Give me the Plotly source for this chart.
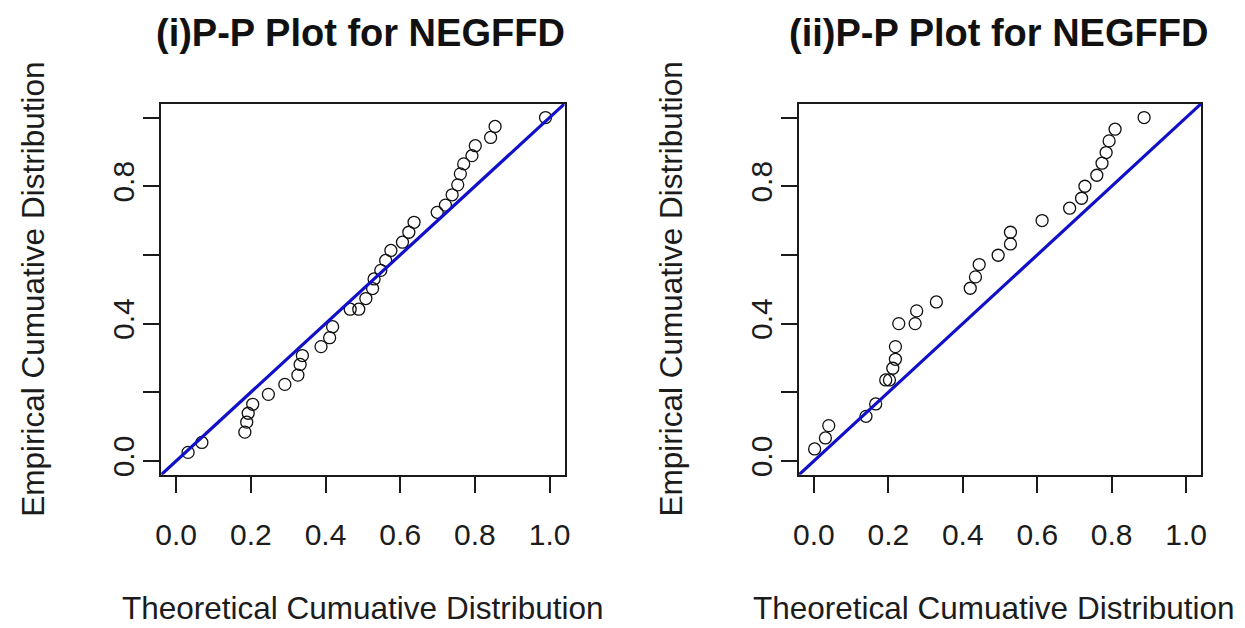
import plotly.graph_objects as go

# Panel (i): theoretical vs empirical cumulative probabilities
theo_1 = [0.032, 0.069, 0.184, 0.189, 0.193, 0.205, 0.247, 0.291, 0.326, 0.332,
          0.338, 0.388, 0.411, 0.419, 0.466, 0.489, 0.508, 0.526, 0.530, 0.548,
          0.561, 0.575, 0.606, 0.623, 0.637, 0.699, 0.721, 0.739, 0.754, 0.761,
          0.770, 0.792, 0.801, 0.842, 0.854, 0.989]
emp_1 = [0.025, 0.054, 0.084, 0.113, 0.139, 0.165, 0.194, 0.223, 0.250, 0.281,
         0.307, 0.333, 0.359, 0.391, 0.442, 0.442, 0.473, 0.502, 0.530, 0.555,
         0.584, 0.613, 0.637, 0.666, 0.695, 0.724, 0.745, 0.775, 0.804, 0.836,
         0.865, 0.889, 0.918, 0.942, 0.974, 1.000]

# Panel (ii)
theo_2 = [0.002, 0.031, 0.040, 0.140, 0.166, 0.193, 0.203, 0.212, 0.219, 0.219,
          0.228, 0.272, 0.276, 0.329, 0.420, 0.434, 0.444, 0.495, 0.528, 0.528,
          0.613, 0.687, 0.719, 0.728, 0.760, 0.774, 0.785, 0.793, 0.809, 0.887]
emp_2 = [0.035, 0.067, 0.103, 0.130, 0.166, 0.236, 0.236, 0.270, 0.296, 0.333,
         0.400, 0.400, 0.437, 0.463, 0.503, 0.536, 0.572, 0.599, 0.632, 0.666,
         0.700, 0.736, 0.765, 0.800, 0.832, 0.867, 0.898, 0.932, 0.966, 1.000]

panel_titles = ["(i)P-P Plot for NEGFFD", "(ii)P-P Plot for NEGFFD"]
x_title = "Theoretical Cumuative Distribution"
y_title = "Empirical Cumuative Distribution"

x_tickvals = [0.0, 0.2, 0.4, 0.6, 0.8, 1.0]
x_ticktext = ["0.0", "0.2", "0.4", "0.6", "0.8", "1.0"]
y_tickvals = [0.0, 0.2, 0.4, 0.6, 0.8, 1.0]
y_ticktext = ["0.0", "", "0.4", "", "0.8", ""]

AX_LO, AX_HI = -0.04, 1.04
W, H = 1245, 628
FONT = "Liberation Sans, Arial, sans-serif"
TXT = "#1c1c1c"

# panel boxes in pixels: (left, right), shared (top, bottom)
panels_px = [(156.7, 564.0), (800.7, 1206.7)]
top_px, bot_px = 104.3, 477.0
xtitle_cx = [360, 997]

fig = go.Figure()

for i, (tx, ey) in enumerate([(theo_1, emp_1), (theo_2, emp_2)]):
    xa = "x" if i == 0 else "x2"
    ya = "y" if i == 0 else "y2"
    fig.add_trace(go.Scatter(
        x=tx, y=ey, mode="markers", xaxis=xa, yaxis=ya,
        marker=dict(symbol="circle-open", size=12, color="#111111",
                    line=dict(width=1.3, color="#111111")),
        showlegend=False, hoverinfo="x+y"))
    # reference line y = x across the full plotting region
    fig.add_trace(go.Scatter(
        x=[AX_LO, AX_HI], y=[AX_LO, AX_HI], mode="lines", xaxis=xa, yaxis=ya,
        line=dict(color="#1010c8", width=3.2), showlegend=False,
        hoverinfo="skip"))

axis_common = dict(
    range=[AX_LO, AX_HI], showgrid=False, zeroline=False,
    showline=True, mirror=True, linecolor="#1a1a1a", linewidth=1.6,
    ticks="outside", ticklen=16, tickwidth=1.5, tickcolor="#1a1a1a",
    tickfont=dict(family=FONT, size=30, color=TXT),
    fixedrange=True,
)

layout_axes = {}
for i, (l, r) in enumerate(panels_px):
    sfx = "" if i == 0 else "2"
    layout_axes["xaxis" + sfx] = dict(
        axis_common, domain=[l / W, r / W],
        anchor="y" + sfx, tickmode="array",
        tickvals=x_tickvals, ticktext=x_ticktext, ticklabelstandoff=16)
    layout_axes["yaxis" + sfx] = dict(
        axis_common, domain=[1 - bot_px / H, 1 - top_px / H],
        anchor="x" + sfx, tickmode="array",
        tickvals=y_tickvals, ticktext=y_ticktext, tickangle=-90,
        ticklabelstandoff=-3)

annotations = []
for i, (l, r) in enumerate(panels_px):
    cx = (l + r) / 2
    annotations.append(dict(
        text="<b>%s</b>" % panel_titles[i], x=(cx - 2) / W, y=1 - 33 / H,
        xref="paper", yref="paper", xanchor="center", yanchor="middle",
        showarrow=False, font=dict(family=FONT, size=38, color="#111111")))
    annotations.append(dict(
        text=x_title, x=xtitle_cx[i] / W, y=1 - 611 / H,
        xref="paper", yref="paper", xanchor="center", yanchor="middle",
        showarrow=False, font=dict(family=FONT, size=31.5, color=TXT)))
    annotations.append(dict(
        text=y_title, x=(l - 129) / W, y=1 - ((top_px + bot_px) / 2) / H,
        xref="paper", yref="paper", xanchor="center", yanchor="middle",
        textangle=-90, showarrow=False,
        font=dict(family=FONT, size=31.5, color=TXT)))

fig.update_layout(
    width=W, height=H, margin=dict(l=0, r=0, t=0, b=0),
    paper_bgcolor="white", plot_bgcolor="white",
    annotations=annotations, **layout_axes)

fig.write_html("out.html", config={"displayModeBar": False})
